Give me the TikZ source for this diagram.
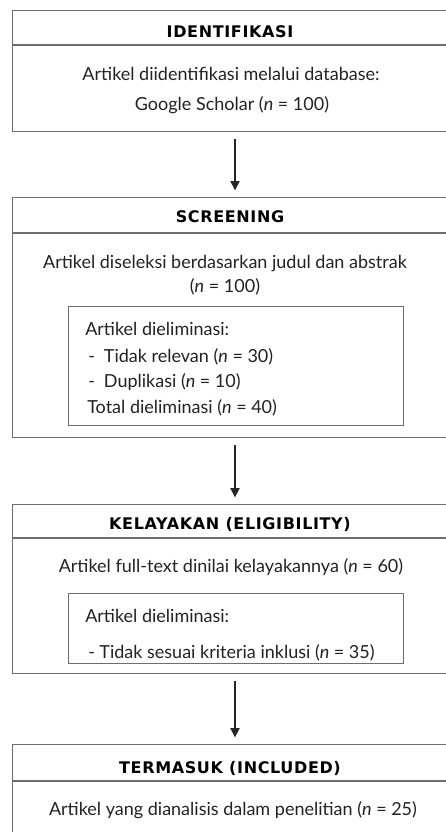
\documentclass[tikz,border=0pt]{standalone}
\usepackage{fontspec}
\setmainfont{Lato}
\newfontfamily\headfont[LetterSpace=4]{DejaVu Sans}
\usetikzlibrary{arrows.meta}
\definecolor{boxline}{HTML}{6E6E6E}
\definecolor{txt}{HTML}{222222}
\begin{document}
\begin{tikzpicture}[x=0.75pt,y=-0.75pt,
  boxstyle/.style={draw=boxline,line width=1pt,rectangle,inner sep=0pt,anchor=north west},
  rule/.style={draw=boxline,line width=1pt},
  head/.style={font=\headfont\fontsize{12}{14}\selectfont\bfseries,text=black,anchor=base,inner sep=0pt},
  body/.style={font=\fontsize{13.5}{15}\selectfont,text=txt,anchor=base,inner sep=0pt},
  bodyl/.style={body,anchor=base west},
  arr/.style={draw=black!85,line width=0.9pt,-{Triangle[width=7pt,length=7pt]},shorten <=5pt,shorten >=5pt}]
\useasboundingbox (0,0) rectangle (446,832);
\clip (0,0) rectangle (446,832);
\coordinate (ax) at (235,0);
% box 1
\node[boxstyle,minimum width=336pt,minimum height=90.75pt] (b1) at (12,10) {};
\draw[rule] (b1.west |- 0,45) -- (b1.east |- 0,45);
\node[head] (h1) at (230,37) {IDENTIFIKASI};
\node[body] (t1a) at (231,80) {Artikel diidentifikasi melalui database:};
\node[body] (t1b) at (232,110) {Google Scholar (\textit{n} = 100)};
% box 2
\node[boxstyle,minimum width=336pt,minimum height=180pt] (b2) at (12,197) {};
\draw[rule] (b2.west |- 0,233) -- (b2.east |- 0,233);
\node[head] (h2) at (230,222) {SCREENING};
\node[body] (t2a) at (225,268) {Artikel diseleksi berdasarkan judul dan abstrak};
\node[body] (t2b) at (225,292) {(\textit{n} = 100)};
\node[boxstyle,minimum width=251.25pt,minimum height=89.25pt] (i2) at (68,306) {};
\node[bodyl] (e2a) at (85,335) {Artikel dieliminasi:};
\node[bodyl] (e2b) at (88,362) {-\hspace{0.5em}Tidak relevan (\textit{n} = 30)};
\node[bodyl] (e2c) at (88,387) {-\hspace{0.5em}Duplikasi (\textit{n} = 10)};
\node[bodyl] (e2d) at (87,413) {Total dieliminasi (\textit{n} = 40)};
% box 3
\node[boxstyle,minimum width=336pt,minimum height=126.75pt] (b3) at (12,504) {};
\draw[rule] (b3.west |- 0,538) -- (b3.east |- 0,538);
\node[head] (h3) at (230,529) {KELAYAKAN (ELIGIBILITY)};
\node[body] (t3a) at (231,572) {Artikel full-text dinilai kelayakannya (\textit{n} = 60)};
\node[boxstyle,minimum width=251.25pt,minimum height=52.5pt] (i3) at (68,593) {};
\node[bodyl] (e3a) at (85,622) {Artikel dieliminasi:};
\node[bodyl] (e3b) at (88,658) {-\hspace{0.25em}Tidak sesuai kriteria inklusi (\textit{n} = 35)};
% box 4
\node[boxstyle,minimum width=336pt,minimum height=90pt] (b4) at (12,744) {};
\draw[rule] (b4.west |- 0,781) -- (b4.east |- 0,781);
\node[head] (h4) at (230,773) {TERMASUK (INCLUDED)};
\node[body] (t4a) at (233,815) {Artikel yang dianalisis dalam penelitian (\textit{n} = 25)};
% arrows
\draw[arr] (b1.south -| ax) -- (b2.north -| ax);
\draw[arr] (b2.south -| ax) -- (b3.north -| ax);
\draw[arr] (b3.south -| ax) -- (b4.north -| ax);
\end{tikzpicture}
\end{document}
